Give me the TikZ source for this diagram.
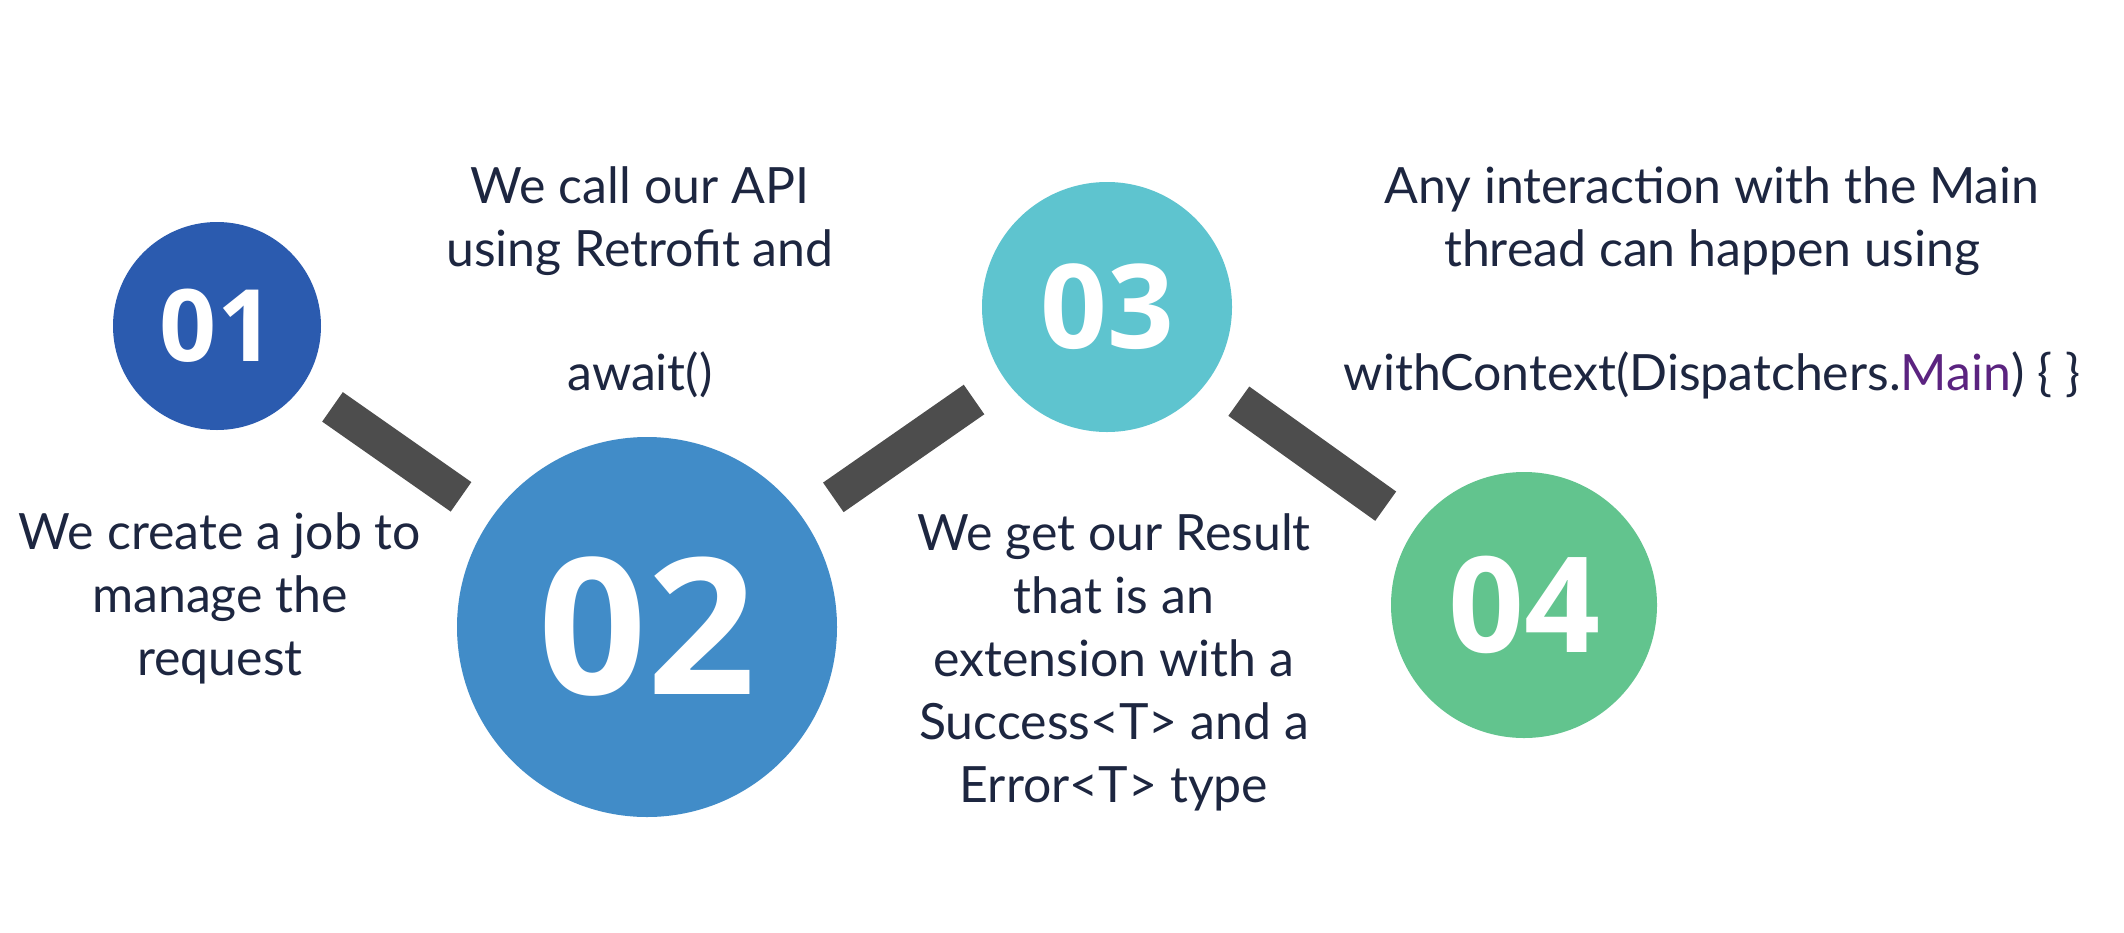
\documentclass[tikz,border=0pt]{standalone}
\usepackage{fontspec}
\setmainfont{Lato}
\newfontfamily\numfont{Open Sans}
\definecolor{cone}{HTML}{2B5BAF}
\definecolor{ctwo}{HTML}{418CC8}
\definecolor{cthree}{HTML}{5EC4CF}
\definecolor{cfour}{HTML}{62C48E}
\definecolor{barc}{HTML}{4D4D4D}
\definecolor{navy}{HTML}{1D2640}
\definecolor{purp}{HTML}{5B2380}
\begin{document}
\begin{tikzpicture}[x=1pt,y=-1pt,
  numcirc/.style={circle, inner sep=0pt, outer sep=37pt, text=white},
  bar/.style={draw=barc, line width=36pt},
  txt/.style={text=navy, align=center, inner sep=0pt, anchor=base,
    font=\fontsize{50}{63}\selectfont}]
\useasboundingbox (0,0) rectangle (2124,932);
\fill[white] (0,0) rectangle (2124,932);
% circles
\node[numcirc, fill=cone, minimum size=208pt,
  font=\numfont\bfseries\fontsize{100}{100}\selectfont] (n1) at (217,326) {01};
\node[numcirc, fill=ctwo, minimum size=380pt,
  font=\numfont\bfseries\fontsize{190}{190}\selectfont] (n2) at (647,627) {02};
\node[numcirc, fill=cthree, minimum size=250pt,
  font=\numfont\bfseries\fontsize{117}{117}\selectfont] (n3) at (1107,307) {03};
\node[numcirc, fill=cfour, minimum size=266pt,
  font=\numfont\bfseries\fontsize{133}{133}\selectfont] (n4) at (1524,605) {04};
% connectors
\draw[bar] (n1) -- (n2);
\draw[bar] (n2) -- (n3);
\draw[bar] (n3) -- (n4);
% texts (base anchor = baseline of the last line)
\node[txt] (ta) at (220,675) {We create a job to\\manage the\\request};
\node[txt] (tb) at (640,390) {We call our API\\using Retrofit and\\[61pt]await()};
\node[txt] (tc) at (1114,802) {We get our Result\\that is an\\extension with a\\Success<T> and a\\Error<T> type};
\node[txt] (td) at (1712,390) {Any interaction with the Main\\thread can happen using\\[61pt]withContext(Dispatchers.\textcolor{purp}{Main}) \{ \}};
\end{tikzpicture}
\end{document}
